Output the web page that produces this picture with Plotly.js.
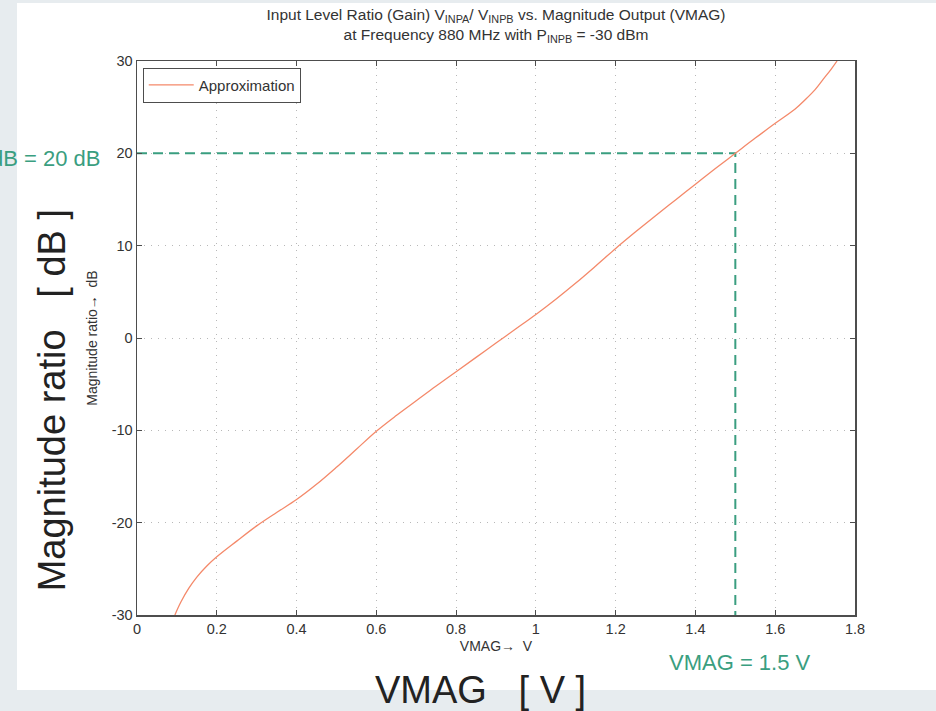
<!DOCTYPE html>
<html>
<head>
<meta charset="utf-8">
<script src="https://cdn.plot.ly/plotly-3.0.1.min.js"></script>
<style>html,body{margin:0;padding:0;background:#e7ecef;}#chart{width:936px;height:711px;}</style>
</head>
<body>
<div id="chart"></div>
<script>
// Approximation curve
const vmag = [0.095, 0.11, 0.13, 0.15, 0.175, 0.2, 0.25, 0.3, 0.35, 0.4, 0.45, 0.5, 0.55, 0.6, 0.65, 0.7, 0.75, 0.8, 0.85, 0.9, 0.95, 1.0, 1.05, 1.1, 1.15, 1.2, 1.25, 1.3, 1.35, 1.4, 1.45, 1.5, 1.55, 1.6, 1.65, 1.675, 1.7, 1.72, 1.74, 1.755];
const ratio = [-30, -28.6, -27.1, -25.9, -24.7, -23.7, -22.0, -20.35, -18.9, -17.5, -15.85, -14.0, -12.05, -10.1, -8.4, -6.8, -5.2, -3.65, -2.1, -0.55, 1.0, 2.55, 4.2, 5.95, 7.8, 9.7, 11.5, 13.25, 14.95, 16.65, 18.35, 20.0, 21.65, 23.25, 24.8, 25.8, 26.9, 28.0, 29.1, 30];
// Marker lines (operating point)
const markX = [0, 1.5, 1.5];
const markY = [20, 20, -30];
const xTicks = [0, 0.2, 0.4, 0.6, 0.8, 1, 1.2, 1.4, 1.6, 1.8];
const xTickText = ['0', '0.2', '0.4', '0.6', '0.8', '1', '1.2', '1.4', '1.6', '1.8'];
const yTicks = [-30, -20, -10, 0, 10, 20, 30];
const yTickText = ['-30', '-20', '-10', '0', '10', '20', '30'];

const green = '#3a9e80';
const fontFam = '"Liberation Sans", Arial, sans-serif';

const traces = [
  {x: markX, y: markY, mode: 'lines', line: {color: green, width: 2, dash: '10px,6px'}, showlegend: false, hoverinfo: 'skip'},
  {x: vmag, y: ratio, mode: 'lines', name: 'Approximation', line: {color: '#f4896a', width: 1.3, shape: 'spline', smoothing: 1}}
];

const axisCommon = {
  showline: true, linecolor: '#4d4d4d', linewidth: 1.5, mirror: 'ticks',
  ticks: 'inside', ticklen: 5, tickcolor: '#4d4d4d', tickwidth: 1,
  showgrid: true, gridcolor: '#b8b8b8', griddash: '1px,6px', gridwidth: 1,
  zeroline: false, tickfont: {family: fontFam, size: 14.5, color: '#333'}
};

const layout = {
  width: 936, height: 711,
  paper_bgcolor: '#e7ecef', plot_bgcolor: '#ffffff',
  margin: {l: 137, r: 81, t: 61, b: 96},
  font: {family: fontFam, color: '#333'},
  title: {
    text: 'Input Level Ratio (Gain) V<sub>INPA</sub>/ V<sub>INPB</sub> vs. Magnitude Output (VMAG)<br>at Frequency 880 MHz with P<sub>INPB</sub> = -30 dBm',
    font: {family: fontFam, size: 15.5, color: '#333'},
    x: 0.5, xref: 'paper', y: 0.972, yref: 'container', yanchor: 'top'
  },
  xaxis: Object.assign({}, axisCommon, {
    range: [0, 1.8], tickvals: xTicks, ticktext: xTickText,
    title: {text: 'VMAG\u2192  V', font: {family: fontFam, size: 14, color: '#333'}, standoff: 5}
  }),
  yaxis: Object.assign({}, axisCommon, {
    range: [-30, 30], tickvals: yTicks, ticktext: yTickText,
    title: {text: 'Magnitude ratio\u2192  dB', font: {family: fontFam, size: 14, color: '#333'}, standoff: 10}
  }),
  legend: {
    x: 0.008, y: 0.988, xanchor: 'left', yanchor: 'top',
    bgcolor: '#ffffff', bordercolor: '#4d4d4d', borderwidth: 1,
    font: {family: fontFam, size: 15, color: '#333'},
    itemwidth: 45
  },
  shapes: [
    {type: 'rect', xref: 'paper', yref: 'paper', x0: -0.1671, x1: 1.2, y0: -0.1354, y1: 1.1047,
     fillcolor: '#ffffff', line: {width: 0}, layer: 'below'}
  ],
  annotations: [
    {text: 'dB = 20 dB', xref: 'paper', yref: 'y', x: -0.0487, y: 19.4, xanchor: 'right', yanchor: 'middle',
     showarrow: false, font: {family: fontFam, size: 22, color: green}},
    {text: 'VMAG = 1.5 V', xref: 'paper', yref: 'paper', x: 0.84, y: -0.0866, xanchor: 'center', yanchor: 'middle',
     showarrow: false, font: {family: fontFam, size: 22, color: green}},
    {text: 'Magnitude ratio   [ dB ]', xref: 'paper', yref: 'paper', x: -0.118, y: 0.388, xanchor: 'center', yanchor: 'middle',
     textangle: -90, showarrow: false, font: {family: fontFam, size: 38, color: '#222'}},
    {text: 'VMAG   [ V ]', xref: 'paper', yref: 'paper', x: 0.478, y: -0.135, xanchor: 'center', yanchor: 'middle',
     showarrow: false, font: {family: fontFam, size: 38, color: '#222'}}
  ]
};

Plotly.newPlot('chart', traces, layout, {displayModeBar: false, staticPlot: true});
</script>
</body>
</html>
